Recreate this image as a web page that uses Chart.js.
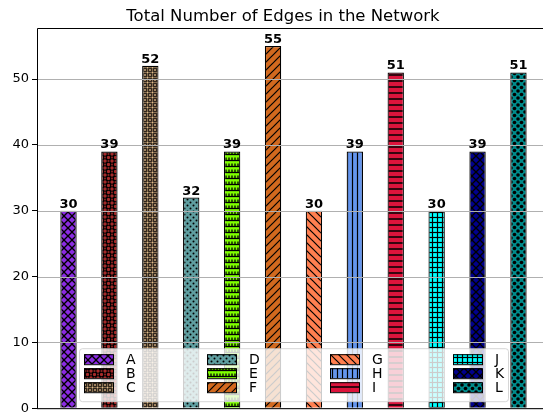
<!DOCTYPE html>
<html>
<head>
<meta charset="utf-8">
<script src="https://cdn.jsdelivr.net/npm/chart.js@4.4.1/dist/chart.umd.min.js"></script>
<style>
  html, body { margin: 0; padding: 0; background: #fff; overflow: hidden; }
  #wrap { width: 543px; height: 419px; }
</style>
</head>
<body>
<div id="wrap"><canvas id="edgesChart" width="543" height="419"></canvas></div>
<script>
// Chart data
const categories = ['A', 'B', 'C', 'D', 'E', 'F', 'G', 'H', 'I', 'J', 'K', 'L'];
const edgeCounts = [30, 39, 52, 32, 39, 55, 30, 39, 51, 30, 39, 51];
const yTicks = [0, 10, 20, 30, 40, 50];
const chartTitle = 'Total Number of Edges in the Network';

// Bar styles (matplotlib named colours + hatch kinds)
const barColors = ['#8a2be2', '#a52a2a', '#deb887', '#5f9ea0', '#7fff00', '#d2691e',
                   '#ff7f50', '#6495ed', '#dc143c', '#00ffff', '#00008b', '#008b8b'];
const hatchKinds = ['x', 'O', 'o', '.', '*', '/', '\\', '|', '-', '+', 'x', 'dots'];

const FONT = "'DejaVu Sans', 'Liberation Sans', sans-serif";

// Build a repeating hatch pattern for a bar
function makeHatch(kind, color) {
    const sizes = { 'x': 8, 'O': 7, 'o': 5, '.': 6, '*': 6, '/': 8, '\\': 8, '|': 5, '-': 6, '+': 5, 'dots': 7 };
    const s = sizes[kind] || 8;
    const c = document.createElement('canvas');
    c.width = s; c.height = s;
    const g = c.getContext('2d');
    g.fillStyle = color;
    g.fillRect(0, 0, s, s);
    g.strokeStyle = '#000';
    g.fillStyle = '#000';
    g.lineWidth = 1.2;
    const line = (x1, y1, x2, y2) => { g.beginPath(); g.moveTo(x1, y1); g.lineTo(x2, y2); g.stroke(); };
    const ring = (x, y, r) => { g.beginPath(); g.arc(x, y, r, 0, Math.PI * 2); g.stroke(); };
    const dot = (x, y, r) => { g.beginPath(); g.arc(x, y, r, 0, Math.PI * 2); g.fill(); };
    const stagger = [[0, 0], [s, 0], [0, s], [s, s], [s / 2, s / 2]];
    switch (kind) {
        case 'x':
            g.lineWidth = 1.3;
            line(0, 0, s, s); line(0, s, s, 0);
            break;
        case '/':
            line(0, s, s, 0); line(-1, 1, 1, -1); line(s - 1, s + 1, s + 1, s - 1);
            break;
        case '\\':
            line(0, 0, s, s); line(-1, s - 1, 1, s + 1); line(s - 1, -1, s + 1, 1);
            break;
        case '|':
            line(s / 2, 0, s / 2, s);
            break;
        case '-':
            g.lineWidth = 1.5;
            line(0, s / 2, s, s / 2);
            break;
        case '+':
            line(s / 2, 0, s / 2, s); line(0, s / 2, s, s / 2);
            break;
        case '.':
            dot(1.5, 1.5, 1); dot(4.5, 4.5, 1);
            break;
        case 'O':
            g.lineWidth = 1.1;
            stagger.forEach(p => ring(p[0], p[1], 2.2));
            break;
        case 'o':
            g.lineWidth = 0.9;
            stagger.forEach(p => ring(p[0], p[1], 1.5));
            break;
        case '*':
            g.lineWidth = 1.3;
            line(0, 4.5, s, 4.5);
            line(1, 1.5, 1, 4.5); line(4, 1.5, 4, 4.5);
            break;
        case 'dots':
            stagger.forEach(p => dot(p[0], p[1], 1.8));
            break;
    }
    return g.createPattern(c, 'repeat');
}

const barPatterns = categories.map((_, i) => makeHatch(hatchKinds[i], barColors[i]));

// Grid, spines, value labels, title and in-plot legend
const overlayPlugin = {
    id: 'overlay',
    afterDatasetsDraw(chart) {
        const ctx = chart.ctx;
        const area = chart.chartArea;
        const yScale = chart.scales.y;
        ctx.save();

        // horizontal grid over bars (matplotlib default)
        ctx.strokeStyle = '#b0b0b0';
        ctx.lineWidth = 1;
        yTicks.forEach(t => {
            const y = Math.round(yScale.getPixelForValue(t)) + 0.5;
            ctx.beginPath();
            ctx.moveTo(area.left, y);
            ctx.lineTo(area.right, y);
            ctx.stroke();
        });

        // spines
        ctx.strokeStyle = '#000';
        ctx.lineWidth = 1;
        ctx.beginPath();
        ctx.moveTo(area.left + 0.5, area.bottom + 0.5);
        ctx.lineTo(area.left + 0.5, area.top + 0.5);
        ctx.lineTo(area.right, area.top + 0.5);
        ctx.moveTo(area.left, area.bottom + 0.5);
        ctx.lineTo(area.right, area.bottom + 0.5);
        ctx.stroke();

        // value labels
        const meta = chart.getDatasetMeta(0);
        ctx.fillStyle = '#000';
        ctx.font = 'bold 13px ' + FONT;
        ctx.textAlign = 'center';
        ctx.textBaseline = 'alphabetic';
        meta.data.forEach((bar, i) => {
            ctx.fillText(String(edgeCounts[i]), bar.x, bar.y - 3);
        });

        // title
        ctx.font = '16.5px ' + FONT;
        ctx.fillText(chartTitle, 283, 21);

        // legend: 4 columns x 3 rows, bottom of the plot
        const fx = area.left + 42, fw = 429, fh = 53;
        const fy = area.bottom - 7 - fh;
        ctx.beginPath();
        ctx.roundRect(fx + 0.5, fy + 0.5, fw, fh, 3);
        ctx.fillStyle = 'rgba(255,255,255,0.8)';
        ctx.fill();
        ctx.strokeStyle = 'rgba(204,204,204,0.8)';
        ctx.stroke();

        ctx.font = '14px ' + FONT;
        ctx.textAlign = 'left';
        ctx.textBaseline = 'middle';
        categories.forEach((name, i) => {
            const col = Math.floor(i / 3), row = i % 3;
            const hx = fx + 5 + col * 123;
            const hy = fy + 11 + row * 14;
            ctx.fillStyle = barPatterns[i];
            ctx.fillRect(hx, hy - 5, 29, 10);
            ctx.strokeStyle = '#000';
            ctx.lineWidth = 1;
            ctx.strokeRect(hx + 0.5, hy - 5 + 0.5, 29, 10);
            ctx.fillStyle = '#000';
            ctx.fillText(name, hx + 42, hy + 1);
        });

        ctx.restore();
    }
};

new Chart(document.getElementById('edgesChart'), {
    type: 'bar',
    data: {
        labels: categories,
        datasets: [{
            data: edgeCounts.map((v, i) => ({ x: i, y: v })),
            backgroundColor: barPatterns,
            borderColor: '#000',
            borderWidth: 1.2,
            barPercentage: 0.4,
            categoryPercentage: 1.0
        }]
    },
    options: {
        responsive: false,
        animation: false,
        layout: { padding: { top: 28, bottom: 9, left: 0, right: 0 } },
        plugins: {
            legend: { display: false },
            tooltip: { enabled: false }
        },
        scales: {
            x: {
                type: 'linear',
                min: -0.77,
                max: 11.6,
                offset: false,
                display: false
            },
            y: {
                min: 0,
                max: 57.75,
                afterFit: function(scale) { scale.width = 37; },
                ticks: {
                    stepSize: 10,
                    includeBounds: false,
                    color: '#000',
                    padding: 3,
                    font: { family: FONT, size: 13 }
                },
                grid: {
                    drawOnChartArea: false,
                    drawTicks: true,
                    tickLength: 5,
                    tickColor: '#000'
                },
                border: { display: false }
            }
        }
    },
    plugins: [overlayPlugin]
});
</script>
</body>
</html>
